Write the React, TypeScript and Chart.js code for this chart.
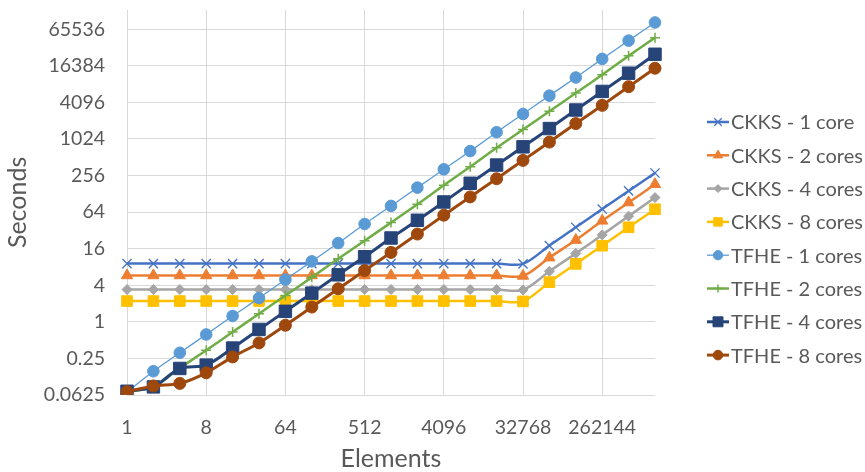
import React, { useEffect, useRef } from "react";
import { Chart, registerables } from "chart.js";
import { drawPoint } from "chart.js/helpers";

Chart.register(...registerables);

// ---- data ----
const elements = [
  "1", "2", "4", "8", "16", "32", "64", "128", "256", "512", "1024", "2048",
  "4096", "8192", "16384", "32768", "65536", "131072", "262144", "524288", "1048576",
];
const yTickValues = [0.0625, 0.25, 1, 4, 16, 64, 256, 1024, 4096, 16384, 65536];

const ckks1 = [9.1, 9.1, 9.1, 9.1, 9.1, 9.1, 9.1, 9.1, 9.1, 9.1, 9.1, 9.1, 9.1, 9.1, 9.1, 9.0, 18, 36, 72, 143, 282];
const ckks2 = [5.8, 5.8, 5.8, 5.8, 5.8, 5.8, 5.8, 5.8, 5.8, 5.8, 5.8, 5.8, 5.8, 5.8, 5.8, 5.7, 11.4, 22.2, 46, 92, 184];
const ckks4 = [3.4, 3.4, 3.4, 3.4, 3.4, 3.4, 3.4, 3.4, 3.4, 3.4, 3.4, 3.4, 3.4, 3.4, 3.4, 3.35, 6.8, 13.4, 27, 55, 111];
const ckks8 = [2.2, 2.2, 2.2, 2.2, 2.2, 2.2, 2.2, 2.2, 2.2, 2.2, 2.2, 2.2, 2.2, 2.2, 2.2, 2.17, 4.5, 9, 17.9, 36, 71.5];
const tfhe1 = [0.07, 0.154, 0.31, 0.62, 1.25, 2.46, 4.97, 9.9, 19.8, 40.8, 81, 162, 324, 647, 1323, 2640, 5290, 10520, 21300, 42600, 84700];
const tfhe2 = [0.07, 0.085, 0.173, 0.34, 0.68, 1.36, 2.72, 5.4, 10.9, 21.7, 43, 86, 177, 357, 733, 1465, 2920, 5830, 11700, 23900, 47700];
const tfhe4 = [0.072, 0.085, 0.171, 0.194, 0.37, 0.75, 1.49, 2.97, 5.94, 11.8, 24, 47, 94, 191, 381, 760, 1520, 3070, 6210, 12400, 25400];
const tfhe8 = [0.071, 0.088, 0.097, 0.145, 0.265, 0.45, 0.88, 1.75, 3.5, 7.0, 13.9, 27.9, 57, 114, 227, 455, 910, 1835, 3660, 7430, 14960];

const seriesLabels = [
  "CKKS - 1 core", "CKKS - 2 cores", "CKKS - 4 cores", "CKKS - 8 cores",
  "TFHE - 1 cores", "TFHE - 2 cores", "TFHE - 4 cores", "TFHE - 8 cores",
];
const seriesValues = [ckks1, ckks2, ckks4, ckks8, tfhe1, tfhe2, tfhe4, tfhe8];
const seriesColors = ["#4472C4", "#ED7D31", "#A5A5A5", "#FFC000", "#5B9BD5", "#70AD47", "#264478", "#9E480E"];
const seriesMarkers = ["crossRot", "triangle", "rectRot", "rect", "circle", "cross", "rect", "circle"];
const markerRadius = [6.5, 6.5, 5, 7.5, 5.8, 5, 8.8, 6];
const lineWidths = [2.5, 2.5, 2.5, 2.5, 1.3, 2.5, 3, 3];
const markerBorder = [1.3, 1, 1, 1, 1, 1.5, 1, 1];

const FONT = "Lato, 'Open Sans', sans-serif";
const TEXT = "#595959";
const GRID = "#D9D9D9";

const legendPlugin = {
  id: "excelLegend",
  afterDraw(chart: any) {
    const ctx = chart.ctx as CanvasRenderingContext2D;
    const x0 = 707;
    const x1 = 729;
    const top = 122;
    const step = 33.3;
    chart.data.datasets.forEach((ds: any, i: number) => {
      const y = top + i * step;
      ctx.save();
      ctx.strokeStyle = ds.borderColor;
      ctx.lineWidth = ds.borderWidth;
      ctx.beginPath();
      ctx.moveTo(x0, y);
      ctx.lineTo(x1, y);
      ctx.stroke();
      ctx.fillStyle = ds.pointBackgroundColor;
      ctx.strokeStyle = ds.pointBorderColor;
      ctx.lineWidth = ds.pointBorderWidth;
      drawPoint(ctx, {
        pointStyle: ds.pointStyle,
        radius: ds.pointRadius * 0.8,
        borderWidth: ds.pointBorderWidth,
        rotation: 0,
      } as any, (x0 + x1) / 2, y);
      ctx.fillStyle = TEXT;
      ctx.font = `20px ${FONT}`;
      ctx.textAlign = "left";
      ctx.textBaseline = "middle";
      ctx.fillText(ds.label, x1 + 2, y + 1);
      ctx.restore();
    });
  },
};

function zeroPad(s: any) {
  s.paddingTop = 0;
  s.paddingBottom = 0;
  s.paddingLeft = 0;
  s.paddingRight = 0;
}

function ChartView() {
  const ref = useRef<HTMLCanvasElement | null>(null);
  useEffect(() => {
    if (!ref.current) return;
    Chart.defaults.font.family = FONT;
    const datasets = seriesValues.map((vals, i) => ({
      label: seriesLabels[i],
      data: vals,
      borderColor: seriesColors[i],
      backgroundColor: seriesColors[i],
      pointBackgroundColor: seriesColors[i],
      pointBorderColor: seriesColors[i],
      pointStyle: seriesMarkers[i],
      pointRadius: markerRadius[i],
      pointBorderWidth: markerBorder[i],
      borderWidth: lineWidths[i],
      tension: 0.3,
      fill: false,
      order: seriesValues.length - i,
    }));
    const chart = new Chart(ref.current, {
      type: "line",
      data: { labels: elements, datasets },
      options: {
        animation: false,
        responsive: false,
        maintainAspectRatio: false,
        events: [],
        layout: { padding: { top: 8, right: 210, left: 0, bottom: 0 } },
        plugins: { legend: { display: false }, tooltip: { enabled: false } },
        scales: {
          x: {
            type: "category",
            offset: false,
            grid: { color: GRID, lineWidth: 1, drawTicks: false },
            border: { display: false },
            ticks: {
              autoSkip: false,
              maxRotation: 0,
              minRotation: 0,
              padding: 21,
              color: TEXT,
              font: { family: FONT, size: 19.5 },
            },
            afterBuildTicks: (s: any) => {
              s.ticks = s.ticks.filter((t: any) => t.value % 3 === 0);
            },
            afterFit: (s: any) => {
              s.height = 77;
              zeroPad(s);
            },
            title: {
              display: true,
              text: "Elements",
              color: TEXT,
              font: { family: FONT, size: 25 },
              padding: { top: 0, bottom: -2 },
            },
          },
          y: {
            type: "logarithmic",
            min: 0.0625,
            max: 137000,
            grid: { color: GRID, lineWidth: 1, drawTicks: false },
            border: { display: false },
            afterBuildTicks: (s: any) => {
              s.ticks = yTickValues.map((v) => ({ value: v }));
            },
            afterFit: (s: any) => {
              s.width = 127;
              zeroPad(s);
            },
            ticks: {
              autoSkip: false,
              padding: 22,
              color: TEXT,
              font: { family: FONT, size: 19.5 },
              callback: (v: any) => String(v),
            },
            title: {
              display: true,
              text: "Seconds",
              color: TEXT,
              font: { family: FONT, size: 25 },
              padding: { top: 3, bottom: 0 },
            },
          },
        },
      } as any,
      plugins: [legendPlugin],
    });
    return () => chart.destroy();
  }, []);
  return <canvas ref={ref} width={865} height={472} style={{ display: "block", width: 865, height: 472 }} />;
}

export default function App() {
  return (
    <div style={{ position: "fixed", left: 0, top: 0, width: 865, height: 472, background: "#fff" }}>
      <ChartView />
    </div>
  );
}
